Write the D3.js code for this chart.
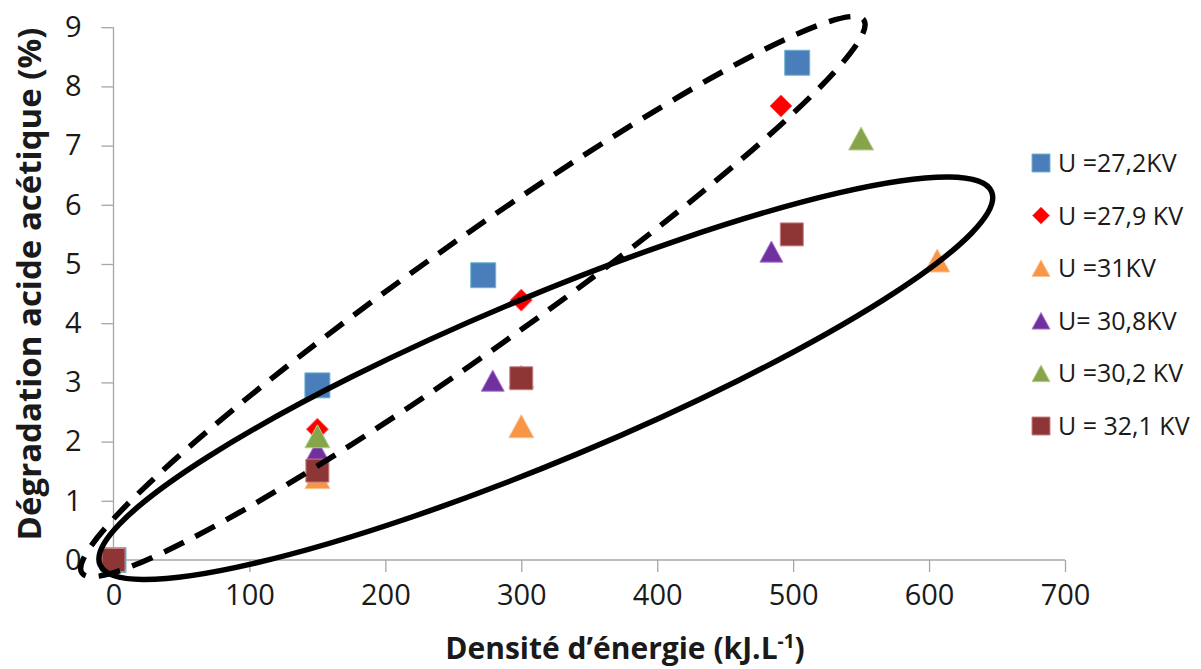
<!DOCTYPE html>
<html>
<head>
<meta charset="utf-8">
<script src="https://cdn.jsdelivr.net/npm/d3@7"></script>
<style>
  html, body { margin: 0; padding: 0; background: #ffffff; }
  svg { display: block; }
  text { font-family: "Open Sans", "Noto Sans", sans-serif; }
</style>
</head>
<body>
<script>
// ---------------- DATA ----------------
const xTicks = [0, 100, 200, 300, 400, 500, 600, 700];
const yTicks = [0, 1, 2, 3, 4, 5, 6, 7, 8, 9];
const seriesNames = ["U =27,2KV", "U =27,9 KV", "U =31KV", "U= 30,8KV", "U =30,2 KV", "U = 32,1 KV"];

const energy272 = [0, 150, 272, 503];
const degr272   = [0, 2.95, 4.81, 8.40];
const energy279 = [0, 150, 300, 491];
const degr279   = [0, 2.21, 4.39, 7.67];
const energy31  = [0, 150, 300, 606];
const degr31    = [0, 1.40, 2.26, 5.06];
const energy308 = [0, 150, 279, 484];
const degr308   = [0, 1.85, 3.03, 5.21];
const energy302 = [0, 150, 300, 550];
const degr302   = [0, 2.09, 3.10, 7.12];
const energy321 = [0, 150, 300, 499];
const degr321   = [0, 1.51, 3.07, 5.50];

const seriesX = [energy272, energy279, energy31, energy308, energy302, energy321];
const seriesY = [degr272, degr279, degr31, degr308, degr302, degr321];

// annotation ellipses (end points of the long axis, in data units)
const dashedEllipseEnds = [[-23.2, -0.22], [552, 9.12]];
const solidEllipseEnds  = [[-9.9, -0.08], [646, 6.22]];

// ---------------- STYLE ----------------
const W = 1201, H = 669;
const markerStyle = [
  {shape: "square",   size: 25, fill: "#4A7EBB", stroke: "#6FB6D0"},
  {shape: "diamond",  size: 22, fill: "#FF0000", stroke: "#FF6060"},
  {shape: "triangle", size: 25, fill: "#F79646", stroke: "#FBC08C"},
  {shape: "triangle", size: 23, fill: "#7030A0", stroke: "#A77CC8"},
  {shape: "triangle", size: 25, fill: "#86A44A", stroke: "#B8CE8C"},
  {shape: "square",   size: 23, fill: "#8E3636", stroke: "#C88484"}
];

function markerPath(shape, s) {
  const h = s / 2;
  if (shape === "square") return `M${-h},${-h}H${h}V${h}H${-h}Z`;
  if (shape === "diamond") return `M0,${-h}L${h},0L0,${h}L${-h},0Z`;
  const th = s * 0.92 / 2;
  return `M0,${-th}L${h},${th}L${-h},${th}Z`;
}

const svg = d3.select("body").append("svg").attr("width", W).attr("height", H);

const x = d3.scaleLinear().domain([0, 700]).range([113.5, 1065]);
const y = d3.scaleLinear().domain([0, 9]).range([560, 27.2]);

const axisColor = "#A6A6A6";
const textColor = "#1a1a1a";

// x axis
const xAxis = svg.append("g").attr("transform", `translate(0,${y(0)})`)
  .call(d3.axisBottom(x).tickValues(xTicks).tickSize(12).tickPadding(10).tickFormat(d3.format("d")));
// y axis
const yAxis = svg.append("g").attr("transform", `translate(${x(0)},0)`)
  .call(d3.axisLeft(y).tickValues(yTicks).tickSize(12).tickPadding(20).tickFormat(d3.format("d")));

[xAxis, yAxis].forEach(g => {
  g.select(".domain").attr("stroke", axisColor).attr("stroke-width", 1.3);
  g.selectAll(".tick line").attr("stroke", axisColor).attr("stroke-width", 1.3);
  g.selectAll(".tick text").attr("fill", textColor).style("font-size", "29px")
    .style("font-family", "'Open Sans', sans-serif");
});
xAxis.select(".domain").attr("d", `M${x(0)},0H${x(700)}`);
yAxis.select(".domain").attr("d", `M0,${y(0)}V${y(9)}`);
xAxis.selectAll(".tick text").attr("dy", "0.71em").attr("y", 24);

// markers
const plot = svg.append("g");
seriesX.forEach((xs, i) => {
  const st = markerStyle[i];
  plot.append("g").selectAll("path")
    .data(xs.map((v, j) => [v, seriesY[i][j]]))
    .join("path")
    .attr("transform", d => `translate(${x(d[0])},${y(d[1])})`)
    .attr("d", markerPath(st.shape, st.size))
    .attr("fill", st.fill)
    .attr("stroke", st.stroke)
    .attr("stroke-width", 1);
});

// ellipses
function drawEllipse(ends, minorPx, dashed) {
  const p1 = [x(ends[0][0]), y(ends[0][1])];
  const p2 = [x(ends[1][0]), y(ends[1][1])];
  const cx = (p1[0] + p2[0]) / 2, cy = (p1[1] + p2[1]) / 2;
  const a = Math.hypot(p2[0] - p1[0], p2[1] - p1[1]) / 2;
  const ang = Math.atan2(p2[1] - p1[1], p2[0] - p1[0]) * 180 / Math.PI;
  const e = svg.append("ellipse")
    .attr("cx", cx).attr("cy", cy).attr("rx", a).attr("ry", minorPx)
    .attr("transform", `rotate(${ang},${cx},${cy})`)
    .attr("fill", "none").attr("stroke", "#000")
    .attr("stroke-width", 5.5);
  if (dashed) e.attr("stroke-dasharray", "22,13").attr("stroke-dashoffset", 8);
}
drawEllipse(dashedEllipseEnds, 55, true);
drawEllipse(solidEllipseEnds, 82, false);

// axis titles
svg.append("text")
  .attr("x", 625).attr("y", 659)
  .attr("text-anchor", "middle")
  .attr("fill", textColor)
  .style("font-size", "30px").style("font-weight", "bold")
  .call(t => {
    t.append("tspan").text("Densité d’énergie (kJ.L");
    t.append("tspan").text("-1").attr("dy", -11).style("font-size", "19px");
    t.append("tspan").text(")").attr("dy", 11);
  });

svg.append("text")
  .attr("transform", `translate(41,284) rotate(-90)`)
  .attr("text-anchor", "middle")
  .attr("fill", textColor)
  .style("font-size", "33px").style("font-weight", "bold")
  .text("Dégradation acide acétique (%)");

// legend
const legend = svg.append("g");
seriesNames.forEach((name, i) => {
  const st = markerStyle[i];
  const ly = 163 + i * 52.6;
  const ms = st.shape === "diamond" ? 17 : 18;
  legend.append("path")
    .attr("transform", `translate(1041,${ly})`)
    .attr("d", markerPath(st.shape, ms))
    .attr("fill", st.fill).attr("stroke", st.stroke).attr("stroke-width", 1);
  legend.append("text")
    .attr("x", 1058).attr("y", ly).attr("dy", "0.36em")
    .attr("fill", textColor)
    .style("font-size", "25px")
    .text(name);
});
</script>
</body>
</html>
